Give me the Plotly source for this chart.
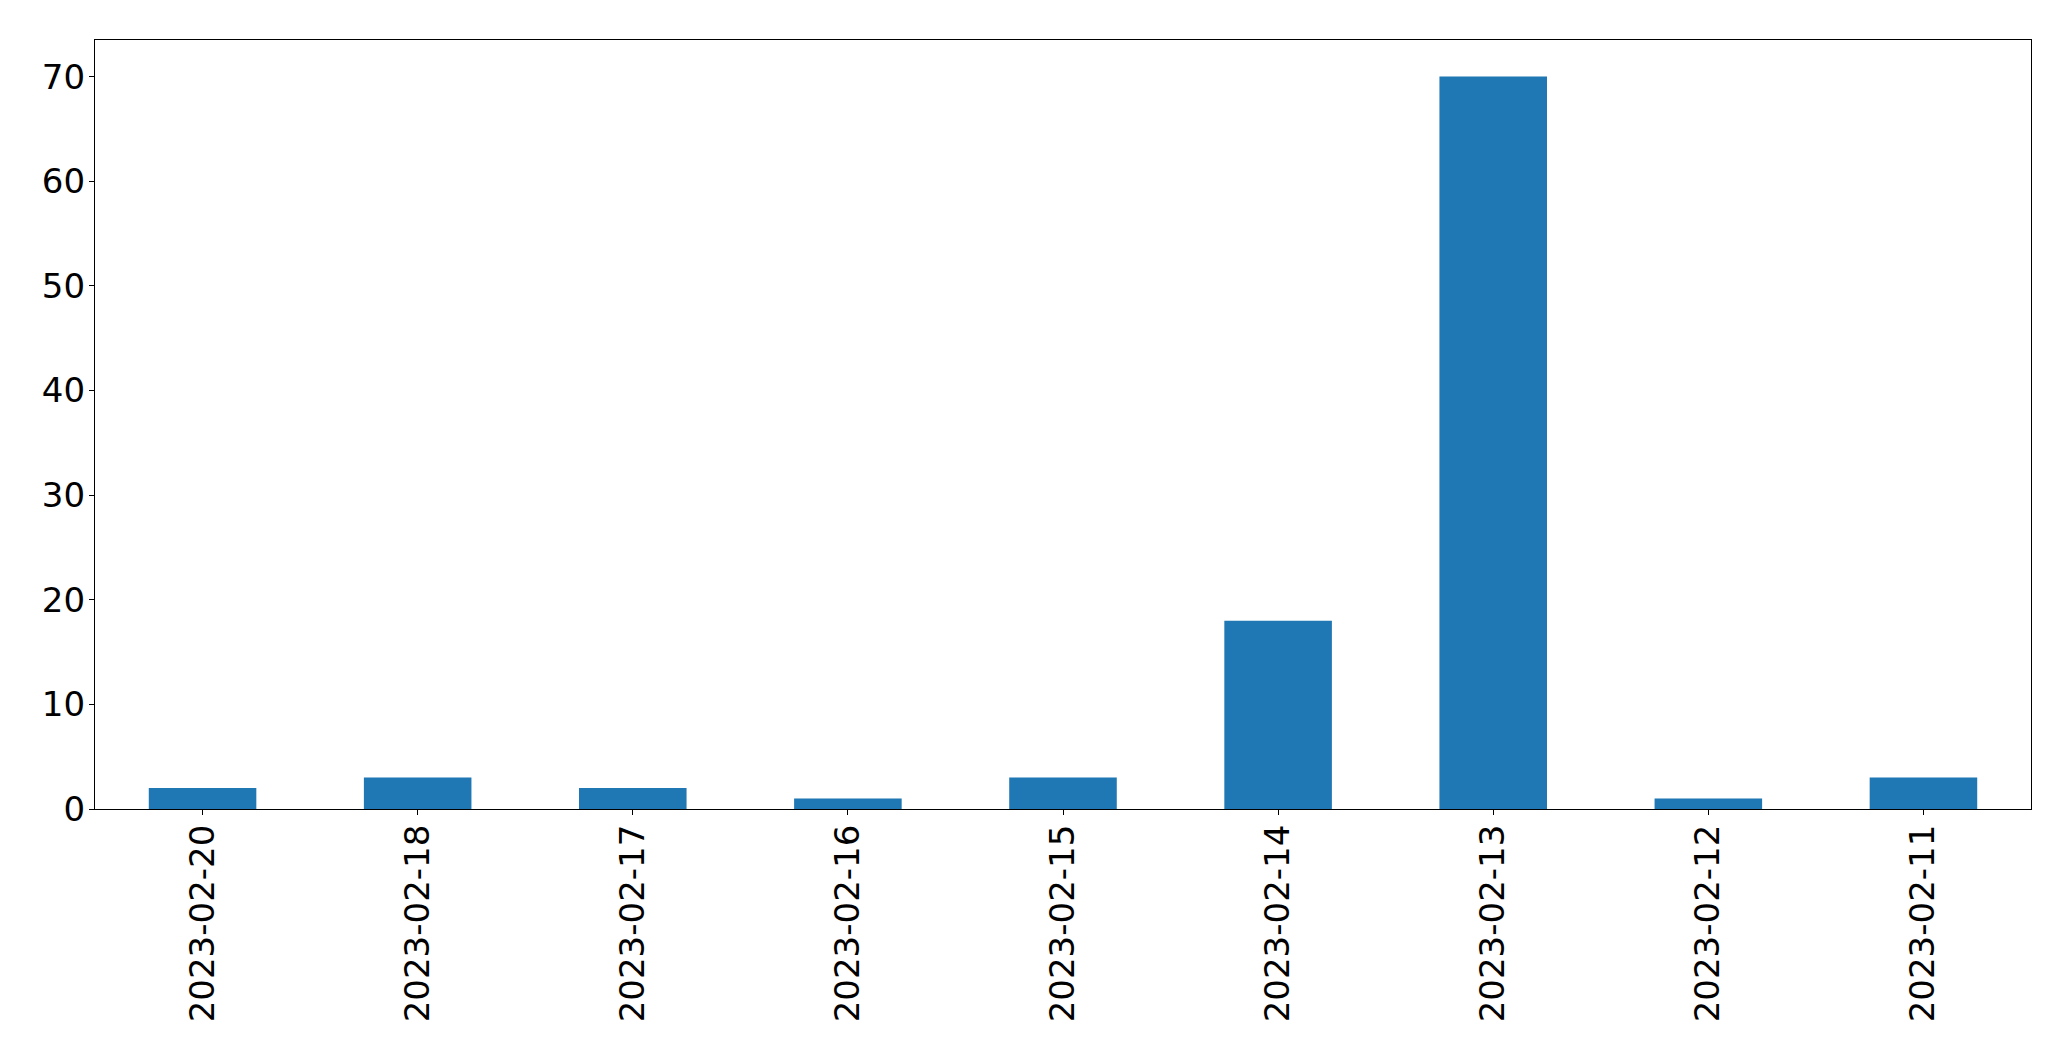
import plotly.graph_objects as go

dates = ["2023-02-20", "2023-02-18", "2023-02-17", "2023-02-16", "2023-02-15",
         "2023-02-14", "2023-02-13", "2023-02-12", "2023-02-11"]
counts = [2, 3, 2, 1, 3, 18, 70, 1, 3]
y_ticks = [0, 10, 20, 30, 40, 50, 60, 70]

fig = go.Figure(go.Bar(x=list(range(len(dates))), y=counts, width=0.5,
                       marker=dict(color="#1f77b4", line=dict(width=0))))

font = dict(family="DejaVu Sans", size=34, color="black")
fig.update_layout(
    width=2063, height=1053,
    margin=dict(l=86.5, r=39.5, t=31.5, b=252, autoexpand=False),
    plot_bgcolor="white", paper_bgcolor="white",
    showlegend=False, font=font,
)
fig.update_xaxes(
    range=[-0.5, len(dates) - 0.5], automargin=False,
    tickmode="array", tickvals=list(range(len(dates))), ticktext=dates,
    tickangle=-90, ticks="outside", ticklen=5, tickwidth=1, tickcolor="black",
    showline=True, linecolor="black", linewidth=1.2, mirror=True,
    showgrid=False, zeroline=False, tickfont=font, ticklabelstandoff=-4,
)
fig.update_yaxes(
    range=[0, max(counts) * 1.05], automargin=False,
    tickmode="array", tickvals=y_ticks,
    ticks="outside", ticklen=5, tickwidth=1, tickcolor="black",
    showline=True, linecolor="black", linewidth=1.2, mirror=True,
    showgrid=False, zeroline=False, tickfont=font, ticklabelstandoff=-3,
)
fig.write_html("out.html")
